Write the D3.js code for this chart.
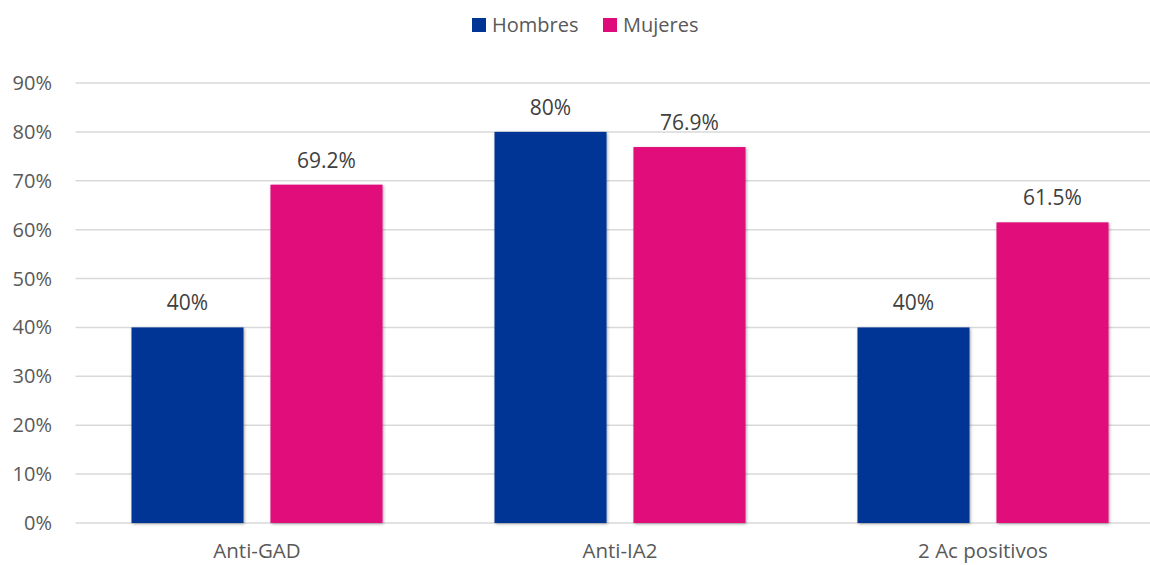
<!DOCTYPE html>
<html>
<head>
<meta charset="utf-8">
<script src="https://cdn.jsdelivr.net/npm/d3@7"></script>
<style>
  body { margin: 0; background: #fff; }
  svg { display: block; font-family: "Open Sans", "Noto Sans", sans-serif; }
</style>
</head>
<body>
<div id="chart"></div>
<script>
const categories = ['Anti-GAD', 'Anti-IA2', '2 Ac positivos']
const series = ['Hombres', 'Mujeres']
const hombres = [40, 80, 40]
const mujeres = [69.2, 76.9, 61.5]
const labelsH = ['40%', '80%', '40%']
const labelsM = ['69.2%', '76.9%', '61.5%']
const yTicks = [0, 10, 20, 30, 40, 50, 60, 70, 80, 90]
const colors = ['#003595', '#E00B7A']

var width = 1150,
    height = 565;

const values = [hombres, mujeres]
const labels = [labelsH, labelsM]

const rows = categories.map((c, i) => ({
  cat: c,
  bars: series.map((s, j) => ({ s: s, v: values[j][i], label: labels[j][i] }))
}))

var svg = d3.select('#chart')
.append('svg')
.attr('width', width)
.attr('height', height)

const defs = svg.append('defs')
const f = defs.append('filter').attr('id', 'shadow')
.attr('x', '-10%').attr('y', '-10%').attr('width', '120%').attr('height', '120%')
f.append('feDropShadow')
.attr('dx', 1).attr('dy', 1).attr('stdDeviation', 1.5)
.attr('flood-color', '#000').attr('flood-opacity', 0.35)

const x0 = d3.scaleBand()
.domain(categories)
.range([75.5, 1164.5])
.paddingInner(0.3085)
.paddingOuter(0.3085 / 2)

const x1 = d3.scaleBand()
.domain(series)
.range([0, x0.bandwidth()])
.paddingInner(0.194)

const y = d3.scaleLinear()
.domain([0, 90])
.range([523, 83])

// gridlines
svg.append('g')
.selectAll('line')
.data(yTicks)
.enter()
.append('line')
.attr('x1', 75.5)
.attr('x2', 1164.5)
.attr('y1', d => y(d))
.attr('y2', d => y(d))
.attr('stroke', '#d9d9d9')
.attr('stroke-width', 1.5)

// y axis labels
svg.append('g')
.selectAll('text')
.data(yTicks)
.enter()
.append('text')
.attr('x', 52)
.attr('y', d => y(d))
.attr('dy', '0.35em')
.attr('text-anchor', 'end')
.attr('fill', '#595959')
.attr('font-size', 20)
.text(d => d + '%')

const groups = svg.append('g')
.selectAll('g')
.data(rows)
.enter()
.append('g')
.attr('transform', d => 'translate(' + x0(d.cat) + ',0)')

groups.selectAll('rect')
.data(d => d.bars)
.enter()
.append('rect')
.attr('x', d => x1(d.s))
.attr('width', x1.bandwidth())
.attr('y', d => y(d.v))
.attr('height', d => y(0) - y(d.v))
.attr('fill', (d, i) => colors[i])
.attr('filter', 'url(#shadow)')

groups.selectAll('text.val')
.data(d => d.bars)
.enter()
.append('text')
.attr('class', 'val')
.attr('x', d => x1(d.s) + x1.bandwidth() / 2)
.attr('y', d => y(d.v) - 17)
.attr('text-anchor', 'middle')
.attr('fill', '#404040')
.attr('font-size', 21)
.text(d => d.label)

// category labels
svg.append('g')
.selectAll('text')
.data(categories)
.enter()
.append('text')
.attr('x', d => x0(d) + x0.bandwidth() / 2)
.attr('y', 558)
.attr('text-anchor', 'middle')
.attr('fill', '#595959')
.attr('font-size', 20.5)
.text(d => d)

// legend
const legendX = [472, 603]
const legend = svg.append('g')
.selectAll('g')
.data(series)
.enter()
.append('g')
.attr('transform', (d, i) => 'translate(' + legendX[i] + ',18)')

legend.append('rect')
.attr('width', 14)
.attr('height', 14)
.attr('fill', (d, i) => colors[i])

legend.append('text')
.attr('x', 20)
.attr('y', 7)
.attr('dy', '0.35em')
.attr('fill', '#595959')
.attr('font-size', 20)
.text(d => d)
</script>
</body>
</html>
